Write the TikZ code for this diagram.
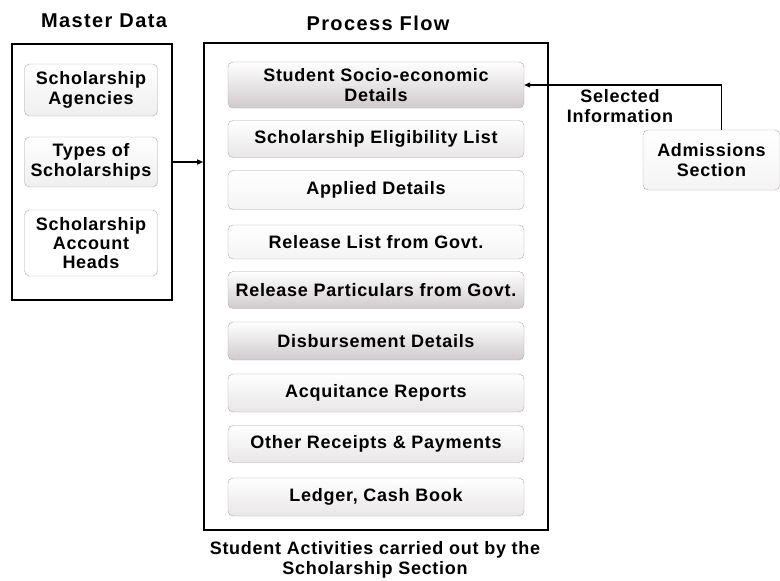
\documentclass[tikz,border=0pt]{standalone}
\usepackage{fontspec}
\setmainfont{Liberation Sans}[LetterSpace=4]
\usepackage{tikz}
\usetikzlibrary{positioning,arrows.meta,calc}
\definecolor{edgegray}{RGB}{175, 165, 170}
\definecolor{shadegray}{RGB}{205, 200, 203}

\begin{document}
\begin{tikzpicture}[
    x=1pt, y=-1pt,
    font=\fontsize{18}{20.5}\selectfont\bfseries,
    >={Triangle[length=6pt, width=5pt]},
    mainbox/.style={draw=black, line width=1.6pt, fill=none, inner sep=0pt},
    itembox/.style={draw=edgegray, rounded corners=5pt, top color=white,
        bottom color=shadegray!45, inner sep=1pt, minimum width=296pt,
        minimum height=37pt, align=center},
    darkbox/.style={itembox, bottom color=shadegray!95},
    sidebox/.style={itembox, minimum width=133pt, bottom color=shadegray!30},
    ttl/.style={font=\fontsize{20}{22}\selectfont\bfseries\addfontfeatures{LetterSpace=7}},
    capt/.style={align=center},
    arr/.style={->, line width=1.2pt, black},
]
\useasboundingbox (0,0) rectangle (780,581);

% === MASTER DATA ===
\node[ttl] at (104, 21) {Master Data};
\node[mainbox, minimum width=160pt, minimum height=256pt] (md) at (92, 172) {};
\node[sidebox, minimum height=52pt] (sa) at (91, 90) {Scholarship\\Agencies};
\node[sidebox, minimum height=50pt] (ts) at (91, 162) {Types of\\Scholarships};
\node[sidebox, minimum height=66pt, bottom color=white, font=\fontsize{18}{19}\selectfont\bfseries] (ah) at (91, 243) {Scholarship\\Account\\Heads};

% === PROCESS FLOW ===
\node[ttl] at (378, 23) {Process Flow};
\node[mainbox, minimum width=344pt, minimum height=487pt] (pf) at (376, 286.5) {};

\node[darkbox, minimum height=46pt] (ssd) at (376, 85) {Student Socio-economic\\Details};
\node[itembox] (sel) at (376, 139) {Scholarship Eligibility List};
\node[itembox, minimum height=39pt, bottom color=shadegray!20] (ad) at (376, 190) {Applied Details};
\node[itembox, minimum height=34pt, bottom color=shadegray!20] (rl) at (376, 242) {Release List from Govt.};
\node[darkbox] (rp) at (376, 290) {Release Particulars from Govt.};
\node[darkbox, minimum height=38pt] (dd) at (376, 341) {Disbursement Details};
\node[itembox, minimum height=38pt] (ar) at (376, 393) {Acquitance Reports};
\node[itembox] (orp) at (376, 444) {Other Receipts \& Payments};
\node[itembox, minimum height=38pt] (lcb) at (376, 497) {Ledger, Cash Book};

\node[capt] at (375, 560) {Student Activities carried out by the\\Scholarship Section};

% Master data feeds the process flow
\draw[arr] (md.east |- ts) -- (pf.west |- ts);

% === ADMISSIONS ===
\node[sidebox, minimum width=137pt, minimum height=60pt, bottom color=shadegray!20] (adm) at (711.5, 160) {Admissions\\Section};
\draw[arr] ([xshift=10pt]adm.north) |- (ssd.east);
\node[capt] at (620, 106) {Selected\\Information};

\end{tikzpicture}
\end{document}
